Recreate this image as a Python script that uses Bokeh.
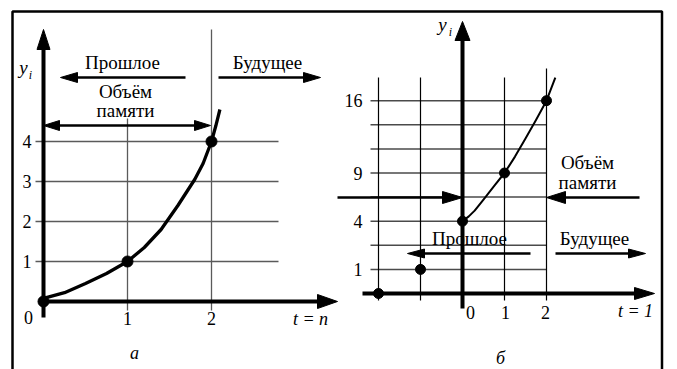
import numpy as np
from bokeh.plotting import figure
from bokeh.models import Range1d, BoxAnnotation
from bokeh.core.properties import value
from bokeh.embed import file_html
from bokeh.resources import INLINE

# ---------------- data: panel "а" ----------------
a_t = [0, 1, 2]
a_y = [0, 1, 4]
a_curve_t = [0, 0.25, 0.5, 0.75, 1.0, 1.2, 1.4, 1.6, 1.8, 1.9, 2.0, 2.05, 2.1]
a_curve_y = [0.08, 0.22, 0.45, 0.7, 1.0, 1.35, 1.8, 2.4, 3.05, 3.45, 4.0, 4.38, 4.8]
a_xticks = [1, 2]
a_xlabels = ["1", "2"]
a_yticks = [1, 2, 3, 4]
a_ylabels = ["1", "2", "3", "4"]

# ---------------- data: panel "б" ----------------
b_t = [-2, -1, 0, 1, 2]
b_y = [0, 1, 4, 9, 16]
# schematic y scale of panel б: value -> grid row
b_scale_vals = [0, 1, 4, 9, 16]
b_scale_rows = [0, 1, 3, 5, 8]
b_grid_rows = [1, 2, 3, 4, 5, 6, 7, 8]
b_ylabels = ["1", "4", "9", "16"]
b_yticks = [1, 4, 9, 16]
b_vlines = [-2, -1, 1, 2]
b_xticks = [0, 1, 2]
b_xlabels = ["0", "1", "2"]
b_curve_t = [0, 0.15, 0.29, 0.5, 0.76, 1.0, 1.25, 1.5, 1.75, 2.0, 2.21]
b_curve_row = [3, 3.2, 3.44, 3.9, 4.48, 5.0, 5.68, 6.43, 7.2, 8.0, 8.96]

FONT = value("'Liberation Serif', 'Times New Roman', serif")
W, H = 677, 369
MARGIN = 0

# pixel geometry of the two panels (page coordinates of origins, px per unit)
A_OX, A_OY, A_SX, A_SY = 43, 301, 84.0, 40.0
B_OX, B_OY, B_SX, B_SY = 462, 293, 42.0, 24.1


def xr(ox, sx):
    o = ox - MARGIN
    return Range1d(-o / sx, (W - o) / sx)


def yr(oy, sy):
    o = oy - MARGIN
    return Range1d((o - H) / sy, o / sy)


p = figure(width=W, height=H, output_backend="svg", toolbar_location=None,
           title=None, x_axis_type=None, y_axis_type=None,
           x_range=xr(A_OX, A_SX), y_range=yr(A_OY, A_SY),
           min_border=0, outline_line_color=None)
p.extra_x_ranges = {"bx": xr(B_OX, B_SX)}
p.extra_y_ranges = {"by": yr(B_OY, B_SY)}
p.background_fill_color = "white"
p.border_fill_color = "white"

B = dict(x_range_name="bx", y_range_name="by")


def head(tx, ty, dx, dy, L, Wd, sx, sy):
    bx = tx - dx * L / sx
    by = ty - dy * L / sy
    px, py = -dy, dx
    return ([tx, bx + px * Wd / 2 / sx, bx - px * Wd / 2 / sx],
            [ty, by + py * Wd / 2 / sy, by - py * Wd / 2 / sy])


def arrow(x0, y0, x1, y1, sx, sy, lw, L, Wd, both=False, **kw):
    dxp = (x1 - x0) * sx
    dyp = (y1 - y0) * sy
    n = (dxp ** 2 + dyp ** 2) ** 0.5
    dx, dy = dxp / n, dyp / n
    ex, ey = x1 - dx * (L - 2) / sx, y1 - dy * (L - 2) / sy
    sx0, sy0 = x0, y0
    if both:
        sx0, sy0 = x0 + dx * (L - 2) / sx, y0 + dy * (L - 2) / sy
    p.segment(x0=[sx0], y0=[sy0], x1=[ex], y1=[ey], line_width=lw,
              line_color="black", **kw)
    xs, ys = head(x1, y1, dx, dy, L, Wd, sx, sy)
    hx, hy = [xs], [ys]
    if both:
        xs2, ys2 = head(x0, y0, -dx, -dy, L, Wd, sx, sy)
        hx.append(xs2)
        hy.append(ys2)
    p.patches(xs=hx, ys=hy, fill_color="black", line_color="black",
              line_width=1, **kw)


def txt(x, y, s, size="19px", style="normal", align="center", **kw):
    p.text(x=[x], y=[y], text=[s], text_font=FONT, text_font_size=size,
           text_font_style=style, text_align=align, text_baseline="middle",
           text_color="black", **kw)


# ---------------- outer frame ----------------
frame = BoxAnnotation(left=(12 - A_OX) / A_SX, right=(661.5 - A_OX) / A_SX,
                      top=(A_OY - 11) / A_SY, bottom=(A_OY - 420) / A_SY,
                      fill_color=None, fill_alpha=0, line_color="black",
                      line_width=2.5, line_alpha=1)
p.add_layout(frame)

# ================= panel а =================
a_gx0, a_gx1 = (35 - A_OX) / A_SX, (278 - A_OX) / A_SX
p.segment(x0=[a_gx0] * len(a_yticks), y0=a_yticks,
          x1=[a_gx1] * len(a_yticks), y1=a_yticks,
          line_color="#5a5a5a", line_width=1.5)
a_vbot = (A_OY - 310) / A_SY
a_vtop = [(A_OY - 118) / A_SY, (A_OY - 29) / A_SY]
p.segment(x0=a_xticks, y0=[a_vbot] * len(a_xticks), x1=a_xticks, y1=a_vtop,
          line_color="#5a5a5a", line_width=1.3)

# axes
arrow(0, (A_OY - 317) / A_SY, 0, (A_OY - 29) / A_SY, A_SX, A_SY, 4, 20, 13)
arrow(0, 0, (337 - A_OX) / A_SX, 0, A_SX, A_SY, 4, 20, 14)

# curve and points
p.line(a_curve_t, a_curve_y, line_width=3.3, line_color="black",
       line_join="round")
p.scatter(a_t, a_y, size=11, color="black")

# tick labels
p.text(x=[(31 - A_OX) / A_SX] * len(a_yticks), y=a_yticks, text=a_ylabels,
       text_font=FONT, text_font_size="18px", text_align="right",
       text_baseline="middle")
p.text(x=a_xticks, y=[(A_OY - 318) / A_SY] * len(a_xticks), text=a_xlabels,
       text_font=FONT, text_font_size="18px", text_align="center",
       text_baseline="middle")
txt((28 - A_OX) / A_SX, (A_OY - 317) / A_SY, "0", size="18px")
txt((310 - A_OX) / A_SX, (A_OY - 318) / A_SY, "t = n", size="18px",
    style="italic")
txt((134 - A_OX) / A_SX, (A_OY - 352) / A_SY, "а", size="18px",
    style="italic")
txt((23 - A_OX) / A_SX, (A_OY - 67) / A_SY, "y", size="19px", style="italic")
txt((30 - A_OX) / A_SX, (A_OY - 74) / A_SY, "i", size="12px", style="italic")

# annotations
txt((122 - A_OX) / A_SX, (A_OY - 62) / A_SY, "Прошлое")
arrow((185 - A_OX) / A_SX, (A_OY - 77) / A_SY, (60 - A_OX) / A_SX,
      (A_OY - 77) / A_SY, A_SX, A_SY, 2.5, 17, 10)
txt((267 - A_OX) / A_SX, (A_OY - 62) / A_SY, "Будущее")
arrow((218 - A_OX) / A_SX, (A_OY - 77) / A_SY, (320 - A_OX) / A_SX,
      (A_OY - 77) / A_SY, A_SX, A_SY, 2.5, 17, 10)
txt((125 - A_OX) / A_SX, (A_OY - 91) / A_SY, "Объём")
txt((125 - A_OX) / A_SX, (A_OY - 110) / A_SY, "памяти")
arrow(0, (A_OY - 125) / A_SY, (210 - A_OX) / A_SX, (A_OY - 125) / A_SY,
      A_SX, A_SY, 2.5, 16, 10, both=True)

# ================= panel б =================
b_rows = list(np.interp(b_y, b_scale_vals, b_scale_rows))
b_tick_rows = list(np.interp(b_yticks, b_scale_vals, b_scale_rows))

b_gx0, b_gx1 = (370 - B_OX) / B_SX, 2
p.segment(x0=[b_gx0] * len(b_grid_rows), y0=b_grid_rows,
          x1=[b_gx1] * len(b_grid_rows), y1=b_grid_rows,
          line_color="#4a4a4a", line_width=1.5, **B)
b_vbot = (B_OY - 300) / B_SY
b_vtop = [(B_OY - 77) / B_SY, (B_OY - 77) / B_SY, (B_OY - 77) / B_SY,
          (B_OY - 68) / B_SY]
p.segment(x0=b_vlines, y0=[b_vbot] * len(b_vlines), x1=b_vlines, y1=b_vtop,
          line_color="black", line_width=1.2, **B)

# axes
arrow(0, (B_OY - 308) / B_SY, 0, (B_OY - 21) / B_SY, B_SX, B_SY, 4, 19, 15, **B)
arrow((362 - B_OX) / B_SX, 0, (654 - B_OX) / B_SX, 0, B_SX, B_SY, 4, 20, 12, **B)

# curve and points
p.line(b_curve_t, b_curve_row, line_width=2, line_color="black",
       line_join="round", **B)
p.scatter(b_t, b_rows, size=10, color="black", **B)

# tick labels
p.text(x=[(362 - B_OX) / B_SX] * len(b_yticks), y=b_tick_rows, text=b_ylabels,
       text_font=FONT, text_font_size="18px", text_align="right",
       text_baseline="middle", **B)
b_xlab_x = [(470 - B_OX) / B_SX, (505 - B_OX) / B_SX, (545 - B_OX) / B_SX]
p.text(x=b_xlab_x, y=[(B_OY - 312) / B_SY] * len(b_xticks), text=b_xlabels,
       text_font=FONT, text_font_size="18px", text_align="center",
       text_baseline="middle", **B)
txt((635 - B_OX) / B_SX, (B_OY - 310) / B_SY, "t = 1", size="18px",
    style="italic", **B)
txt((500 - B_OX) / B_SX, (B_OY - 357) / B_SY, "б", size="18px",
    style="italic", **B)
txt((442 - B_OX) / B_SX, (B_OY - 24) / B_SY, "y", size="19px",
    style="italic", **B)
txt((450 - B_OX) / B_SX, (B_OY - 31) / B_SY, "i", size="12px",
    style="italic", **B)

# annotations
txt((469 - B_OX) / B_SX, (B_OY - 238) / B_SY, "Прошлое", **B)
arrow((530 - B_OX) / B_SX, (B_OY - 253) / B_SY, (407 - B_OX) / B_SX,
      (B_OY - 253) / B_SY, B_SX, B_SY, 2.5, 17, 9, **B)
txt((594 - B_OX) / B_SX, (B_OY - 238) / B_SY, "Будущее", **B)
arrow((555 - B_OX) / B_SX, (B_OY - 253) / B_SY, (645 - B_OX) / B_SX,
      (B_OY - 253) / B_SY, B_SX, B_SY, 2.5, 17, 9, **B)
txt((587 - B_OX) / B_SX, (B_OY - 162) / B_SY, "Объём", **B)
txt((587 - B_OX) / B_SX, (B_OY - 182) / B_SY, "памяти", **B)
arrow((337 - B_OX) / B_SX, (B_OY - 197) / B_SY, 0, (B_OY - 197) / B_SY,
      B_SX, B_SY, 2.5, 20, 12, **B)
arrow((639 - B_OX) / B_SX, (B_OY - 197) / B_SY, 2, (B_OY - 197) / B_SY,
      B_SX, B_SY, 2.5, 19, 12, **B)

open("out.html", "w").write(file_html(p, INLINE))
